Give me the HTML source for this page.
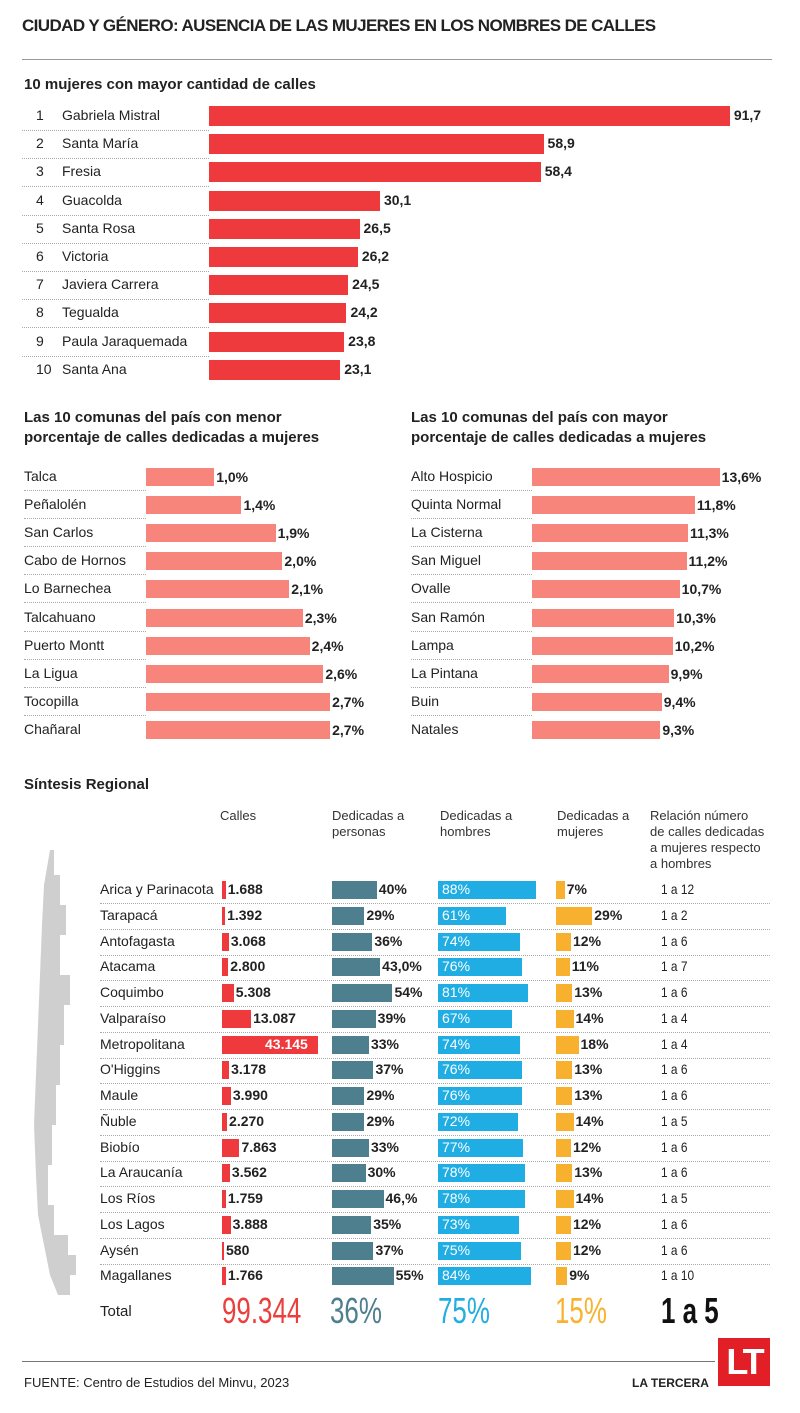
<!DOCTYPE html>
<html><head><meta charset="utf-8">
<style>
body{margin:0;background:#fff;}
#c{position:relative;width:800px;height:1413px;overflow:hidden;font-family:"Liberation Sans",sans-serif;color:#222;}
.a{position:absolute;white-space:nowrap;}
.n{font-family:"Liberation Sans Narrow","Liberation Sans",sans-serif;}
.dot{position:absolute;height:0;border-top:1px dotted #aaa;}
.t{transform:scaleX(0.72);transform-origin:0 0;}
</style></head><body><div id="c">
<div class="a" style="left:22px;top:16px;font-size:17px;font-weight:bold;letter-spacing:-0.6px;">CIUDAD Y GÉNERO: AUSENCIA DE LAS MUJERES EN LOS NOMBRES DE CALLES</div>
<div class="a" style="left:22px;top:59px;width:750px;border-top:1px solid #999;"></div>
<div class="a" style="left:24px;top:76px;font-size:15px;font-weight:bold;">10 mujeres con mayor cantidad de calles</div>
<div class="a" style="left:24px;top:408px;font-size:15px;font-weight:bold;line-height:20px;">Las 10 comunas del país con menor<br>porcentaje de calles dedicadas a mujeres</div>
<div class="a" style="left:411px;top:408px;font-size:15px;font-weight:bold;line-height:20px;">Las 10 comunas del país con mayor<br>porcentaje de calles dedicadas a mujeres</div>
<div class="a" style="left:24px;top:776px;font-size:15px;font-weight:bold;">Síntesis Regional</div>
<div class="a n" style="left:220px;top:808px;font-size:13px;line-height:16px;color:#333;">Calles</div>
<div class="a n" style="left:332px;top:808px;font-size:13px;line-height:16px;color:#333;">Dedicadas a<br>personas</div>
<div class="a n" style="left:440px;top:808px;font-size:13px;line-height:16px;color:#333;">Dedicadas a<br>hombres</div>
<div class="a n" style="left:557px;top:808px;font-size:13px;line-height:16px;color:#333;">Dedicadas a<br>mujeres</div>
<div class="a n" style="left:650px;top:808px;font-size:13px;line-height:16px;color:#333;">Relación número<br>de calles dedicadas<br>a mujeres respecto<br>a hombres</div>
<svg class="a" style="left:30px;top:845px" width="80" height="460"><polygon fill="#cfcfcf" points="20,5 24,5 24,30 30,30 30,60 36,60 36,90 30,90 30,130 40,130 40,160 34,160 34,200 30,200 30,240 26,240 26,280 22,280 22,320 18,320 18,360 24,360 24,390 38,390 38,410 46,410 46,430 40,430 40,450 28,450 20,430 14,400 8,370 6,330 4,280 6,230 8,180 10,130 12,80 14,40"/></svg>
<div class="a n" style="left:100px;top:1303px;font-size:15px;">Total</div>
<div class="a t" style="left:222px;top:1290px;font-size:36px;color:#e9403e;">99.344</div>
<div class="a t" style="left:330px;top:1290px;font-size:36px;color:#4e7f8e;">36%</div>
<div class="a t" style="left:438px;top:1290px;font-size:36px;color:#22aee0;">75%</div>
<div class="a t" style="left:555px;top:1290px;font-size:36px;color:#f7b331;">15%</div>
<div class="a t" style="left:661px;top:1290px;font-size:36px;font-weight:bold;color:#111;">1 a 5</div>
<div class="a" style="left:22px;top:1361px;width:693px;border-top:1px solid #777;"></div>
<div class="a n" style="left:24px;top:1375px;font-size:13px;">FUENTE: Centro de Estudios del Minvu, 2023</div>
<div class="a" style="left:632px;top:1376px;font-size:12px;font-weight:bold;">LA TERCERA</div>
<div class="a" style="left:718px;top:1338px;width:52px;height:48px;background:#e21f26;color:#fff;font-size:36px;font-weight:bold;text-align:center;line-height:48px;letter-spacing:-3px;">LT</div>
</div>
<script>
var c=document.getElementById('c');
function el(h){c.insertAdjacentHTML('beforeend',h);}
var top10=[["Gabriela Mistral",91.7],["Santa María",58.9],["Fresia",58.4],["Guacolda",30.1],["Santa Rosa",26.5],["Victoria",26.2],["Javiera Carrera",24.5],["Tegualda",24.2],["Paula Jaraquemada",23.8],["Santa Ana",23.1]];
top10.forEach(function(d,i){var y=116+i*28.2;var w=d[1]*5.68;
el('<div class="a" style="left:36px;top:'+(y-9)+'px;font-size:14px;">'+(i+1)+'</div>');
el('<div class="a" style="left:62px;top:'+(y-9)+'px;font-size:14px;">'+d[0]+'</div>');
el('<div class="a" style="left:209px;top:'+(y-10)+'px;width:'+w+'px;height:20px;background:#ee3a3c;"></div>');
el('<div class="a" style="left:'+(213+w)+'px;top:'+(y-9)+'px;font-size:14px;font-weight:bold;">'+String(d[1]).replace('.',',')+'</div>');
if(i<9)el('<div class="dot" style="left:22px;top:'+(y+14)+'px;width:187px;"></div>');});
var lo=[["Talca",1.0],["Peñalolén",1.4],["San Carlos",1.9],["Cabo de Hornos",2.0],["Lo Barnechea",2.1],["Talcahuano",2.3],["Puerto Montt",2.4],["La Ligua",2.6],["Tocopilla",2.7],["Chañaral",2.7]];
var hi=[["Alto Hospicio",13.6],["Quinta Normal",11.8],["La Cisterna",11.3],["San Miguel",11.2],["Ovalle",10.7],["San Ramón",10.3],["Lampa",10.2],["La Pintana",9.9],["Buin",9.4],["Natales",9.3]];
function side(arr,x0,bx,sc){arr.forEach(function(d,i){var y=477+i*28.1;var w=d[1]*sc;
el('<div class="a" style="left:'+x0+'px;top:'+(y-9)+'px;font-size:14px;">'+d[0]+'</div>');
el('<div class="a" style="left:'+bx+'px;top:'+(y-9)+'px;width:'+w+'px;height:18px;background:#f7857c;"></div>');
el('<div class="a" style="left:'+(bx+w+2)+'px;top:'+(y-8)+'px;font-size:14px;font-weight:bold;">'+d[1].toFixed(1).replace('.',',')+'%</div>');
if(i<9)el('<div class="dot" style="left:'+x0+'px;top:'+(y+13)+'px;width:'+(bx-x0)+'px;"></div>');});}
side(lo,24,146,68.2);side(hi,411,532,13.8);
var R=[["Arica y Parinacota",1688,"1.688","40%",40,88,7,"1 a 12"],["Tarapacá",1392,"1.392","29%",29,61,29,"1 a 2"],["Antofagasta",3068,"3.068","36%",36,74,12,"1 a 6"],["Atacama",2800,"2.800","43,0%",43,76,11,"1 a 7"],["Coquimbo",5308,"5.308","54%",54,81,13,"1 a 6"],["Valparaíso",13087,"13.087","39%",39,67,14,"1 a 4"],["Metropolitana",43145,"43.145","33%",33,74,18,"1 a 4"],["O'Higgins",3178,"3.178","37%",37,76,13,"1 a 6"],["Maule",3990,"3.990","29%",29,76,13,"1 a 6"],["Ñuble",2270,"2.270","29%",29,72,14,"1 a 5"],["Biobío",7863,"7.863","33%",33,77,12,"1 a 6"],["La Araucanía",3562,"3.562","30%",30,78,13,"1 a 6"],["Los Ríos",1759,"1.759","46,%",46,78,14,"1 a 5"],["Los Lagos",3888,"3.888","35%",35,73,12,"1 a 6"],["Aysén",580,"580","37%",37,75,12,"1 a 6"],["Magallanes",1766,"1.766","55%",55,84,9,"1 a 10"]];
R.forEach(function(d,i){var y=890+i*25.75;var t=y-9,fs='font-size:14px;';
el('<div class="a n" style="left:100px;top:'+t+'px;'+fs+'">'+d[0]+'</div>');
var cw=Math.max(2,d[1]*96/43145);
el('<div class="a" style="left:222px;top:'+(y-9)+'px;width:'+cw+'px;height:18px;background:#ee3a3c;"></div>');
if(i==6)el('<div class="a" style="left:265px;top:'+t+'px;'+fs+'font-weight:bold;color:#fff;">'+d[2]+'</div>');
else el('<div class="a" style="left:'+(224+cw)+'px;top:'+t+'px;'+fs+'font-weight:bold;">'+d[2]+'</div>');
var pw=d[4]*1.12;
el('<div class="a" style="left:332px;top:'+(y-9)+'px;width:'+pw+'px;height:18px;background:#4e7f8e;"></div>');
el('<div class="a" style="left:'+(334+pw)+'px;top:'+t+'px;'+fs+'font-weight:bold;">'+d[3]+'</div>');
el('<div class="a" style="left:438px;top:'+(y-9)+'px;width:'+(d[5]*1.11)+'px;height:18px;background:#1fade3;"></div>');
el('<div class="a" style="left:442px;top:'+t+'px;'+fs+'color:#fff;">'+d[5]+'%</div>');
var mw=d[6]*1.25;
el('<div class="a" style="left:556px;top:'+(y-9)+'px;width:'+mw+'px;height:18px;background:#f7b12f;"></div>');
el('<div class="a" style="left:'+(558+mw)+'px;top:'+t+'px;'+fs+'font-weight:bold;">'+d[6]+'%</div>');
el('<div class="a" style="left:661px;top:'+t+'px;'+fs+'transform:scaleX(0.85);transform-origin:0 0;">'+d[7]+'</div>');
if(i<15)el('<div class="dot" style="left:100px;top:'+(y+13)+'px;width:670px;"></div>');});
</script></body></html>
